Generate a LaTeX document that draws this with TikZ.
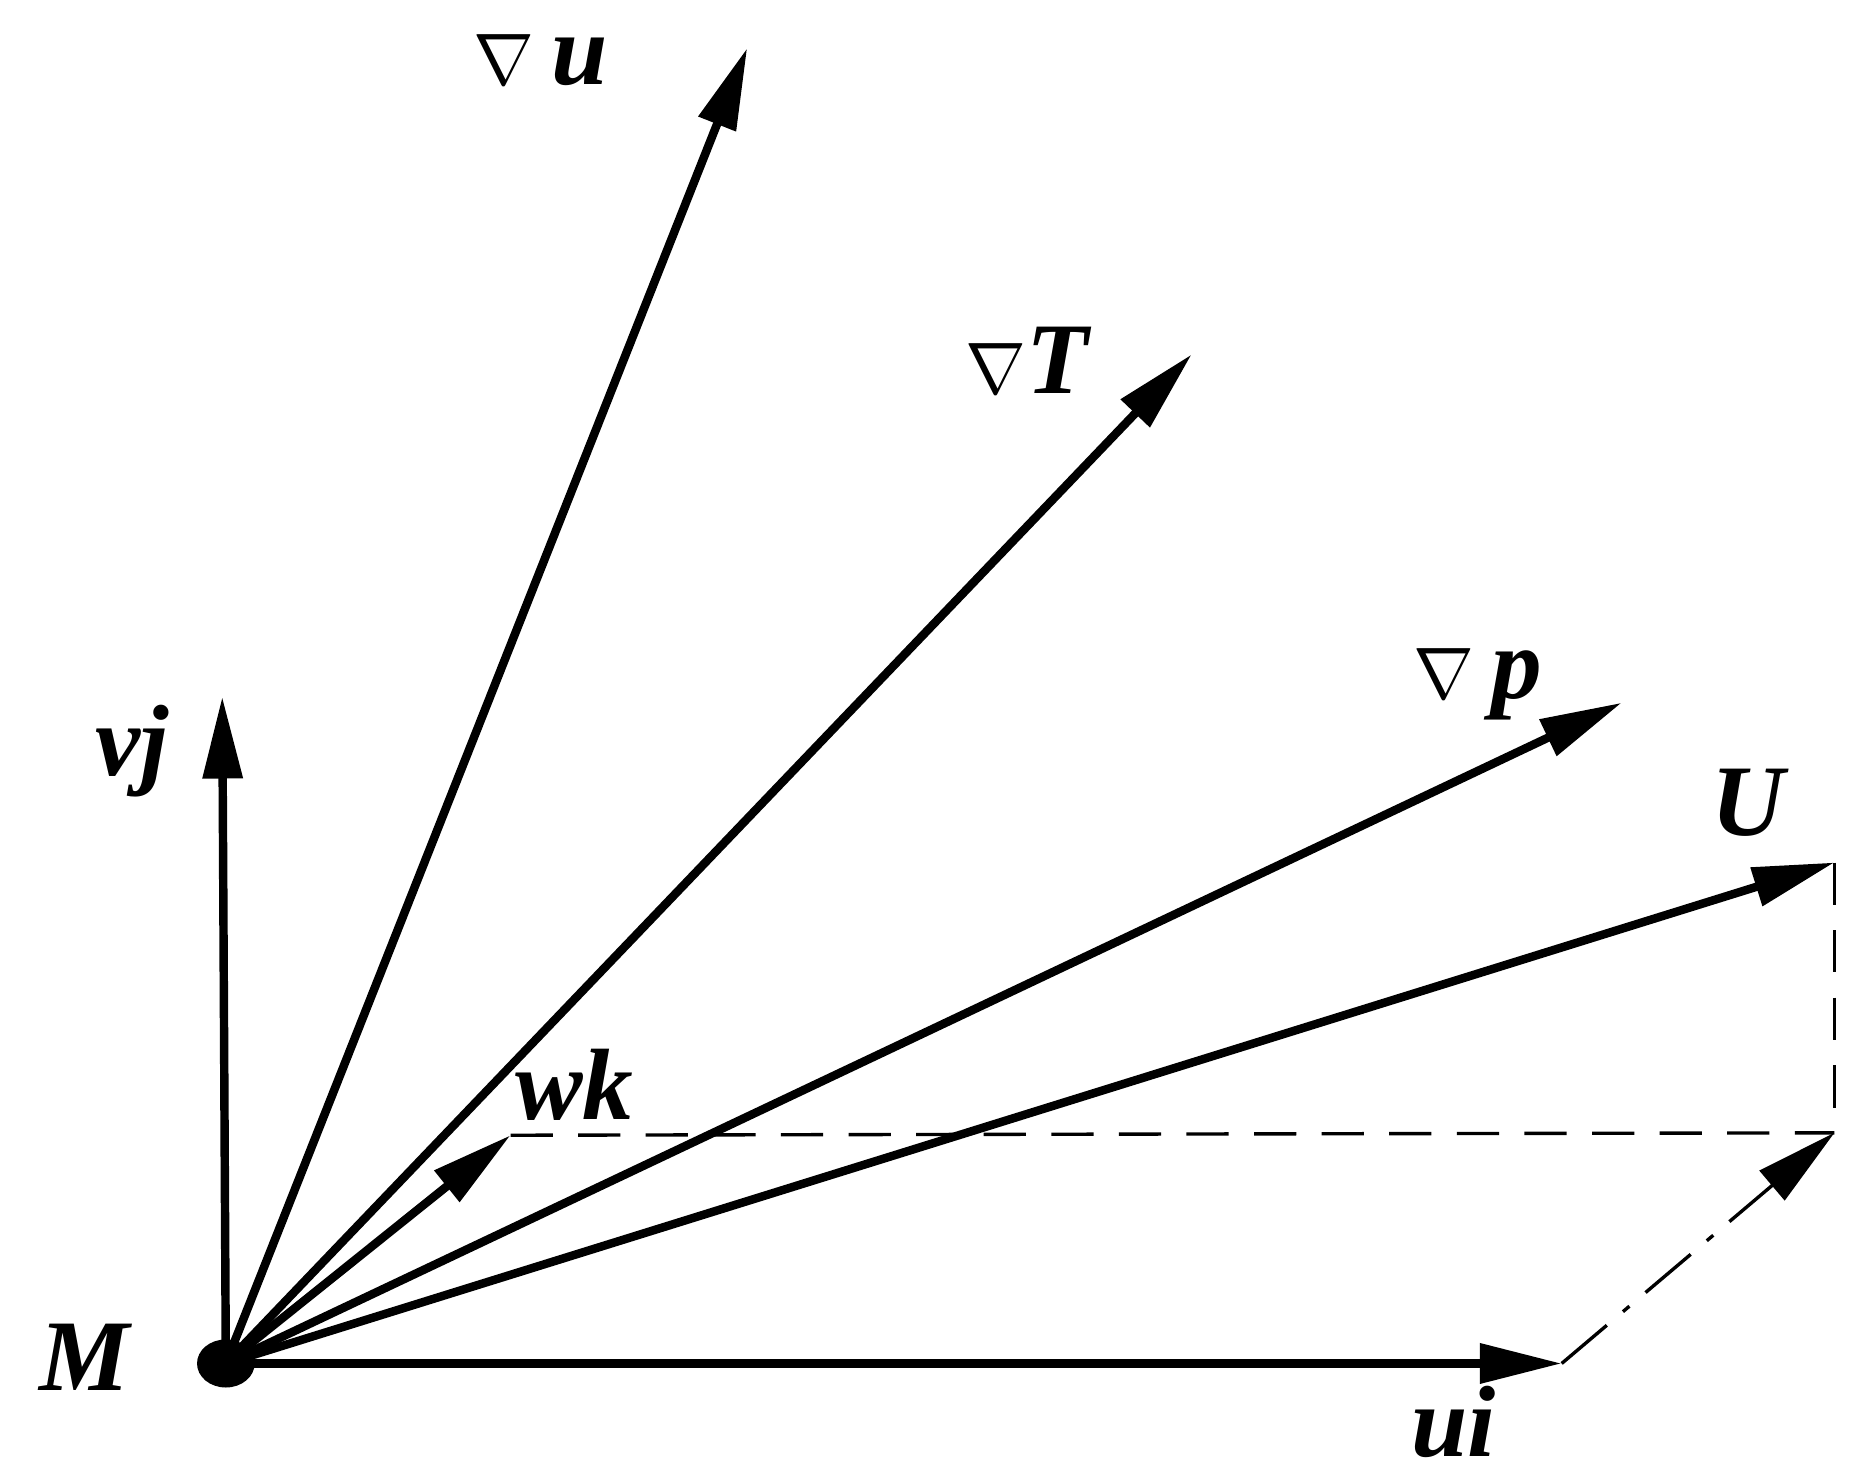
\documentclass[tikz,border=0pt]{standalone}
\usepackage{fontspec}
\setmainfont{Liberation Serif}
\usetikzlibrary{arrows.meta}
\begin{document}
\begin{tikzpicture}[x=0.01cm,y=-0.01cm,
  vec/.style={line width=2pt,-{Triangle[length=0.68cm,width=0.32cm]}},
  lab/.style={font=\fontsize{24}{26}\selectfont\bfseries\itshape},
  guide/.style={line width=0.8pt,dash pattern=on 10pt off 6pt}]
\useasboundingbox (0,0) rectangle (1560,1217);
\coordinate (M) at (188,1135);
\coordinate (vj) at (185,580);
\coordinate (gu) at (622,40);
\coordinate (gT) at (992,295);
\coordinate (gp) at (1350,585);
\coordinate (U) at (1527,718);
\coordinate (wk) at (425,945);
\coordinate (ui) at (1300,1135);
\coordinate (C) at (1527,943);
\draw[guide] (U) -- (C);
\draw[guide] (wk) -- (C);
\draw[line width=0.8pt,dash pattern=on 14pt off 5pt on 2pt off 5pt,-{Triangle[length=0.68cm,width=0.32cm]}] (ui) -- (C);
\foreach \t in {vj,gu,gT,gp,U,wk,ui} \draw[vec] (M) -- (\t);
\fill (M) ellipse (24 and 20);
\node[lab] (lM) at (70,1130) {M};
\node[lab] (lvj) at (110,625) {vj};
\node[lab] (lgu) at (450,50) {{\normalfont\fontsize{17}{20}\selectfont$\nabla$}\,u};
\node[lab] (lgT) at (855,300) {{\normalfont\fontsize{17}{20}\selectfont$\nabla$}T};
\node[lab] (lgp) at (1230,570) {{\normalfont\fontsize{17}{20}\selectfont$\nabla$}\,p};
\node[lab] (lU) at (1455,668) {U};
\node[lab] (lwk) at (478,903) {wk};
\node[lab] (lui) at (1210,1184) {ui};
\end{tikzpicture}
\end{document}
